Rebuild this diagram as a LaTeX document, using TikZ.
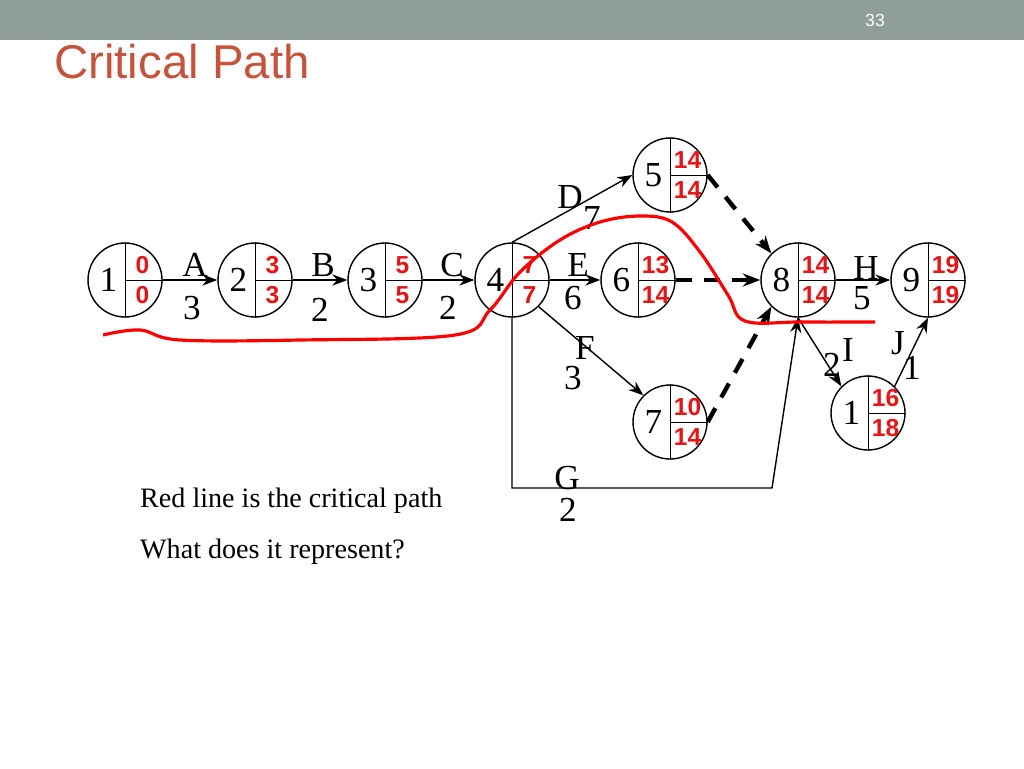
\documentclass[tikz,border=0pt]{standalone}
\usepackage{fontspec}
\setmainfont{Liberation Serif}
\newfontfamily\numfont{Liberation Sans}
\usetikzlibrary{arrows.meta}
\definecolor{barcol}{RGB}{142,158,150}
\definecolor{titlecol}{RGB}{196,84,60}
\definecolor{numred}{RGB}{230,20,20}
\newcommand{\evt}[5]{%
  \node[ev] (#1) at (#2) {};
  \draw (#1.north) -- (#1.south) (#1.center) -- (#1.east);
  \node[evnum] at ([xshift=-0.33cm]#1.center) {#3};
  \node[red num] at ([xshift=0.35cm,yshift=0.3cm]#1.center) {#4};
  \node[red num] at ([xshift=0.35cm,yshift=-0.3cm]#1.center) {#5};
}
\begin{document}
\begin{tikzpicture}[x=0.02cm,y=-0.02cm,
    ev/.style={circle, draw, thick, minimum size=1.48cm, inner sep=0pt},
    evnum/.style={font=\fontsize{20}{20}\selectfont},
    red num/.style={font=\numfont\bfseries\fontsize{14}{14}\selectfont, text=numred},
    act/.style={font=\fontsize{20}{20}\selectfont},
    arrow/.style={-{Stealth[length=3mm]}, thick},
    dasharrow/.style={-{Stealth[length=3.5mm]}, line width=2.5pt, dash pattern=on 9pt off 7pt}
]
\useasboundingbox (0,0) rectangle (1024,768);
\fill[barcol] (0,0) rectangle (1024,40);
\node[text=white, font=\numfont\fontsize{10}{10}\selectfont] (page) at (875,20) {33};
\node[anchor=west, text=titlecol, font=\numfont\fontsize{27}{27}\selectfont] (title) at (48,62) {Critical Path};

% events
\evt{e1}{125,280}{1}{0}{0}
\evt{e2}{255,280}{2}{3}{3}
\evt{e3}{385,280}{3}{5}{5}
\evt{e4}{512,280}{4}{7}{7}
\evt{e5}{670,175}{5}{14}{14}
\evt{e6}{638,280}{6}{13}{14}
\evt{e7}{670,422}{7}{10}{14}
\evt{e8}{798,280}{8}{14}{14}
\evt{e9}{928,280}{9}{19}{19}
\evt{e10}{868,413}{1}{16}{18}

% activities
\draw[arrow] (e1) -- (e2);
\draw[arrow] (e2) -- (e3);
\draw[arrow] (e3) -- (e4);
\draw[arrow] (e4.north) -- (e5.west);
\draw[arrow] (e4) -- (e6);
\draw[arrow] (e4.south east) -- (e7.north west);
\draw[arrow] (e8) -- (e9);
\draw[arrow] (e8.south) -- (e10.north west);
\draw[arrow] (e10.north east) -- (e9.south);
\coordinate (g1) at (512,488);
\coordinate (g2) at (772,488);
\draw[arrow] (e4.south) -- (g1) -- (g2) -- (e8.south);

% dummies
\draw[dasharrow] (e5.east) -- (e8.north west);
\draw[dasharrow] (e6) -- (e8);
\draw[dasharrow] (e7.east) -- (e8.south west);

% labels
\node[act] at (195,265) {A}; \node[act] at (192,308) {3};
\node[act] at (323,265) {B}; \node[act] at (320,310) {2};
\node[act] at (452,265) {C}; \node[act] at (448,308) {2};
\node[act] at (570,197) {D}; \node[act] at (592,218) {7};
\node[act] at (578,265) {E}; \node[act] at (573,298) {6};
\node[act] at (585,348) {F}; \node[act] at (573,378) {3};
\node[act] at (567,478) {G}; \node[act] at (568,510) {2};
\node[act] at (866,268) {H}; \node[act] at (862,298) {5};
\node[act] at (848,350) {I}; \node[act] at (832,365) {2};
\node[act] at (898,343) {J}; \node[act] at (912,368) {1};

% critical path
\draw[red, line width=1.8pt] plot[smooth, tension=0.6] coordinates {(103,335) (140,330) (180,340) (300,340) (455,335) (490,310) (520,272) (560,240) (600,222) (640,216) (672,222) (700,252) (728,295) (745,321) (800,322) (875,322)};

\node[anchor=west, font=\fontsize{16}{16}\selectfont] (t1) at (134,501) {Red line is the critical path};
\node[anchor=west, font=\fontsize{16}{16}\selectfont] (t2) at (134,552) {What does it represent?};
\end{tikzpicture}
\end{document}
